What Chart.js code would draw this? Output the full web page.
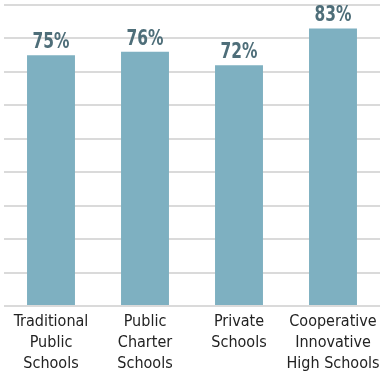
<!DOCTYPE html>
<html lang="en">
<head>
<meta charset="UTF-8">
<title>Schools</title>
<script src="https://cdn.jsdelivr.net/npm/chart.js"></script>
<style>
  html, body { margin: 0; padding: 0; background: #fff; }
  #wrap { width: 381px; height: 377px; }
</style>
</head>
<body>
<div id="wrap"><canvas id="chart"></canvas></div>
<script>
const categories = [
  ['Traditional', 'Public', 'Schools'],
  ['Public', 'Charter', 'Schools'],
  ['Private', 'Schools'],
  ['Cooperative', 'Innovative', 'High Schools']
];
const values = [75, 76, 72, 83];

const condensed = '"DejaVu Sans Condensed", "Liberation Sans Narrow", sans-serif';

// percent labels above the bars, squeezed a bit to look condensed
const valueLabels = {
  id: 'valueLabels',
  afterDatasetsDraw(chart) {
    const ctx = chart.ctx;
    const meta = chart.getDatasetMeta(0);
    meta.data.forEach((bar, i) => {
      ctx.save();
      ctx.translate(bar.x, bar.y - 7);
      ctx.scale(0.78, 1);
      ctx.fillStyle = '#4e6e79';
      ctx.font = 'bold 22px ' + condensed;
      ctx.textAlign = 'center';
      ctx.textBaseline = 'alphabetic';
      ctx.fillText(values[i] + '%', 0, 0);
      ctx.restore();
    });
  }
};

new Chart(document.getElementById('chart'), {
  type: 'bar',
  data: {
    labels: categories,
    datasets: [{
      data: values,
      backgroundColor: '#7eb0c1',
      categoryPercentage: 0.51,
      barPercentage: 1
    }]
  },
  options: {
    responsive: true,
    maintainAspectRatio: false,
    animation: false,
    layout: { padding: { top: 5, left: 4, right: 1, bottom: 0 } },
    plugins: { legend: { display: false }, tooltip: { enabled: false } },
    scales: {
      x: {
        grid: { display: false },
        border: { display: false },
        ticks: {
          color: '#222',
          font: { family: condensed, size: 16, lineHeight: '21px' },
          padding: -3,
          maxRotation: 0,
          autoSkip: false
        },
        afterFit(scale) {
          scale.paddingLeft = 0;
          scale.paddingRight = 0;
          scale.height = 71;
        }
      },
      y: {
        min: 0,
        max: 90,
        border: { display: false },
        grid: { color: '#dadada', lineWidth: 2, drawTicks: false },
        ticks: { display: false, stepSize: 10 },
        afterFit(scale) { scale.width = 0; }
      }
    }
  },
  plugins: [valueLabels]
});
</script>
</body>
</html>
